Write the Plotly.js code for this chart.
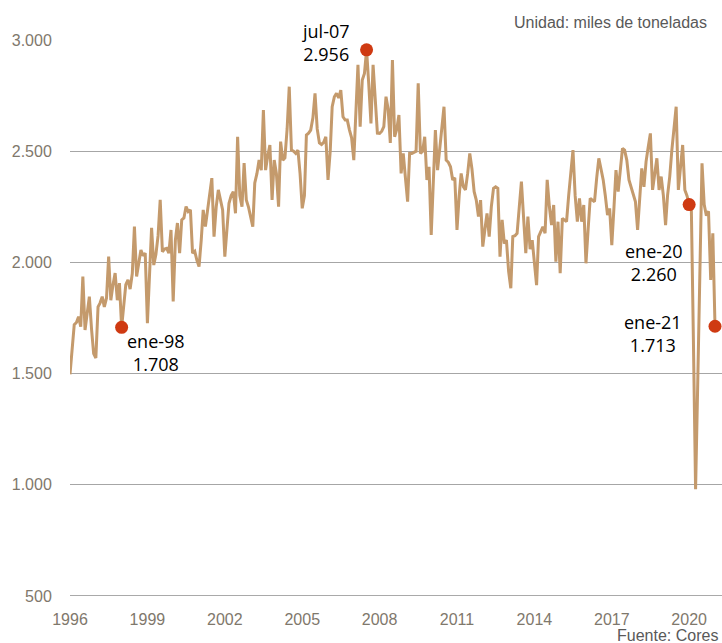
<!DOCTYPE html>
<html>
<head>
<meta charset="utf-8">
<script src="https://cdn.plot.ly/plotly-3.0.1.min.js"></script>
<style>
  html, body { margin: 0; padding: 0; background: #ffffff; }
  #chart { width: 722px; height: 643px; }
</style>
</head>
<body>
<div id="chart"></div>
<script>
// Monthly series, starting January 1996 (miles de toneladas)
const startYear = 1996;
const values = [
  // 1996
  1497, 1600, 1720, 1730, 1756, 1711, 1936, 1696, 1770, 1846, 1700, 1590,
  // 1997
  1570, 1800, 1817, 1846, 1800, 1840, 2026, 1830, 1900, 1952, 1830, 1907,
  // 1998
  1708, 1830, 1900, 1922, 1880, 1950, 2161, 1937, 1990, 2056, 2030, 2042,
  // 1999
  1727, 1960, 2155, 1988, 2035, 2120, 2281, 2048, 2060, 2063, 2042, 2146,
  // 2000
  1824, 2100, 2177, 2042, 2191, 2200, 2251, 2228, 2236, 2042, 2050, 2010,
  // 2001
  1981, 2100, 2236, 2161, 2236, 2300, 2379, 2116, 2250, 2326, 2280, 2236,
  // 2002
  2026, 2150, 2266, 2300, 2318, 2221, 2565, 2300, 2251, 2447, 2281, 2250,
  // 2003
  2200, 2161, 2357, 2400, 2460, 2415, 2685, 2415, 2480, 2528, 2281, 2460,
  // 2004
  2400, 2251, 2543, 2460, 2470, 2600, 2790, 2505, 2500, 2490, 2505, 2400,
  // 2005
  2243, 2300, 2573, 2581, 2595, 2650, 2760, 2600, 2537, 2530, 2540, 2565,
  // 2006
  2371, 2500, 2700, 2745, 2760, 2740, 2775, 2655, 2640, 2640, 2595, 2560,
  // 2007
  2460, 2700, 2888, 2610, 2820, 2850, 2956, 2800, 2625, 2888, 2700, 2581,
  // 2008
  2580, 2590, 2610, 2745, 2690, 2537, 2910, 2565, 2600, 2663, 2400, 2490,
  // 2009
  2380, 2273, 2490, 2490, 2495, 2500, 2805, 2490, 2500, 2565, 2371, 2430,
  // 2010
  2123, 2350, 2595, 2415, 2500, 2600, 2700, 2460, 2450, 2430, 2371, 2380,
  // 2011
  2146, 2300, 2400, 2340, 2326, 2400, 2490, 2420, 2318, 2280, 2206, 2280,
  // 2012
  2071, 2150, 2220, 2116, 2250, 2333, 2340, 2333, 2026, 2191, 2085, 2100,
  // 2013
  1960, 1884, 2116, 2120, 2131, 2250, 2363, 2200, 2042, 2206, 2060, 2100,
  // 2014
  1980, 1898, 2116, 2140, 2160, 2131, 2371, 2250, 2168, 2258, 2003, 2183,
  // 2015
  1951, 2198, 2190, 2183, 2300, 2420, 2505, 2300, 2183, 2288, 2183, 2258,
  // 2016
  1996, 2150, 2288, 2280, 2273, 2380, 2468, 2420, 2371, 2300, 2213, 2243,
  // 2017
  2078, 2250, 2415, 2318, 2420, 2513, 2505, 2460, 2371, 2340, 2310, 2274,
  // 2018
  2146, 2300, 2423, 2340, 2453, 2520, 2580, 2326, 2400, 2468, 2326, 2386,
  // 2019
  2300, 2168, 2300, 2386, 2505, 2600, 2700, 2326, 2420, 2528, 2326, 2300,
  // 2020
  2260, 2240, 1655, 980, 1450, 1990, 2446, 2260, 2210, 2230, 1921, 2131,
  // 2021
  1713
];

// Highlighted points
const highlightLabels = ['ene-98', 'jul-07', 'ene-20', 'ene-21'];
const highlightDates = ['1998-01-01', '2007-07-01', '2020-01-01', '2021-01-01'];
const highlightValues = [1708, 2956, 2260, 1713];
const highlightText = ['1.708', '2.956', '2.260', '1.713'];

const yTicks = [500, 1000, 1500, 2000, 2500, 3000];
const unitText = 'Unidad: miles de toneladas';
const sourceText = 'Fuente: Cores';

// Build month dates
const dates = values.map((v, i) => {
  const y = startYear + Math.floor(i / 12);
  const m = (i % 12) + 1;
  return y + '-' + String(m).padStart(2, '0') + '-01';
});

const lineColor = '#C49A6C';
const dotColor = '#CF3A12';
const tickFont = { family: 'Liberation Sans, Arial, sans-serif', size: 16, color: '#7f786c' };
const annFont = { family: 'Open Sans, sans-serif', size: 18, color: '#000000' };

const traces = [
  {
    x: dates, y: values, type: 'scatter', mode: 'lines',
    line: { color: lineColor, width: 3 },
    hoverinfo: 'skip'
  },
  {
    x: highlightDates, y: highlightValues, type: 'scatter', mode: 'markers',
    marker: { color: dotColor, size: 13 },
    cliponaxis: false,
    hoverinfo: 'skip'
  }
];

// label block offsets (pixels) relative to each highlighted point
const offsets = [
  { dx: 34, dy: -25 },
  { dx: -41, dy: 7 },
  { dx: -35, dy: -58 },
  { dx: -62, dy: -7 }
];

const annotations = highlightLabels.map((lab, i) => ({
  x: highlightDates[i], y: highlightValues[i], xref: 'x', yref: 'y',
  text: lab + '<br>' + highlightText[i], align: 'center',
  showarrow: false, font: annFont,
  xshift: offsets[i].dx, yshift: offsets[i].dy
}));
annotations.push({
  xref: 'paper', yref: 'paper', x: (709 - 70) / 652, y: (596 - 23) / 556,
  xanchor: 'right', yanchor: 'middle', showarrow: false,
  text: unitText, font: { family: 'Liberation Sans, Arial, sans-serif', size: 16, color: '#595959' }
});
annotations.push({
  xref: 'paper', yref: 'paper', x: (720 - 70) / 652, y: (596 - 635) / 556,
  xanchor: 'right', yanchor: 'middle', showarrow: false,
  text: sourceText, font: { family: 'Liberation Sans, Arial, sans-serif', size: 16, color: '#595959' }
});

const layout = {
  width: 722, height: 643,
  margin: { l: 70, r: 0, t: 40, b: 47, pad: 0 },
  paper_bgcolor: '#ffffff', plot_bgcolor: '#ffffff',
  showlegend: false,
  separators: ',.',
  xaxis: {
    type: 'date',
    range: ['1996-01-01', '2021-04-10'],
    tick0: '1996-01-01', dtick: 'M36', tickformat: '%Y',
    showgrid: false, zeroline: false,
    showline: false,
    ticks: 'outside', ticklen: 9, tickcolor: 'rgba(0,0,0,0)',
    tickfont: tickFont
  },
  yaxis: {
    range: [500, 3000],
    tickvals: yTicks, tickformat: ',d',
    showgrid: true, gridcolor: '#a6a6a6', gridwidth: 1,
    zeroline: false, showline: false,
    ticks: 'outside', ticklen: 14, tickcolor: 'rgba(0,0,0,0)',
    tickfont: tickFont
  },
  annotations: annotations,
  shapes: [{
    type: 'line', xref: 'paper', yref: 'y', x0: 0, x1: 1, y0: 500, y1: 500,
    line: { color: '#8c8c8c', width: 1.5 }
  }]
};

Plotly.newPlot('chart', traces, layout, { staticPlot: true, displayModeBar: false });
</script>
</body>
</html>
